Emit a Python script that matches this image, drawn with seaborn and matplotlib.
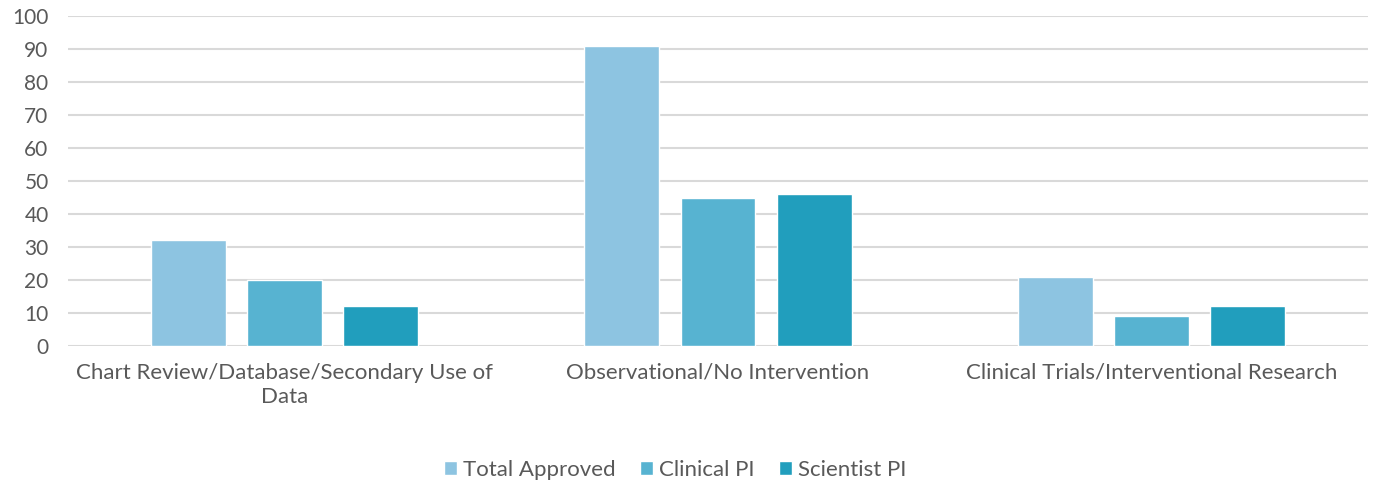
import matplotlib
matplotlib.use("Agg")
import matplotlib.pyplot as plt
import seaborn as sns
import pandas as pd

categories = [
    "Chart Review/Database/Secondary Use of\nData",
    "Observational/No Intervention",
    "Clinical Trials/Interventional Research",
]
series = ["Total Approved", "Clinical PI", "Scientist PI"]
total_approved = [32, 91, 21]
clinical_pi = [20, 45, 9]
scientist_pi = [12, 46, 12]
colors = ["#8DC4E1", "#57B3D1", "#219EBD"]

df = pd.DataFrame({
    "category": categories * 3,
    "series": [s for s in series for _ in categories],
    "value": total_approved + clinical_pi + scientist_pi,
})

sns.set_theme(style="white")
plt.rcParams["font.family"] = ["Lato", "DejaVu Sans"]
text_color = "#595959"

fig = plt.figure(figsize=(13.74, 4.84), dpi=100)
ax = fig.add_axes([68 / 1374, 1 - 346 / 484, 1300 / 1374, 330 / 484])

sns.barplot(data=df, x="category", y="value", hue="series", order=categories,
            hue_order=series, palette=colors, width=0.665, gap=0.22,
            saturation=1, ax=ax, legend=True)

ax.set_ylim(0, 100)
ax.set_xlim(-0.5, 2.5)
ax.set_yticks(range(0, 101, 10))
ax.yaxis.grid(True, color="#D9D9D9", linewidth=1.5)
ax.set_axisbelow(True)
for s in ["top", "right", "left", "bottom"]:
    ax.spines[s].set_visible(False)
ax.set_xlabel("")
ax.set_ylabel("")
ax.tick_params(axis="y", length=0, labelsize=15, labelcolor=text_color, pad=14)
ax.tick_params(axis="x", length=0, labelsize=16, labelcolor=text_color, pad=12)
for lbl in ax.get_xticklabels():
    lbl.set_linespacing(1.25)

handles, labels = ax.get_legend_handles_labels()
ax.legend_.remove()
fig.legend(handles, labels, loc="center", bbox_to_anchor=(675 / 1374, 1 - 470 / 484),
           ncol=3, frameon=False, fontsize=16, labelcolor=text_color,
           handlelength=0.6, handleheight=0.6, handletextpad=0.25,
           columnspacing=1.1)

fig.savefig("out.png", dpi=100)
